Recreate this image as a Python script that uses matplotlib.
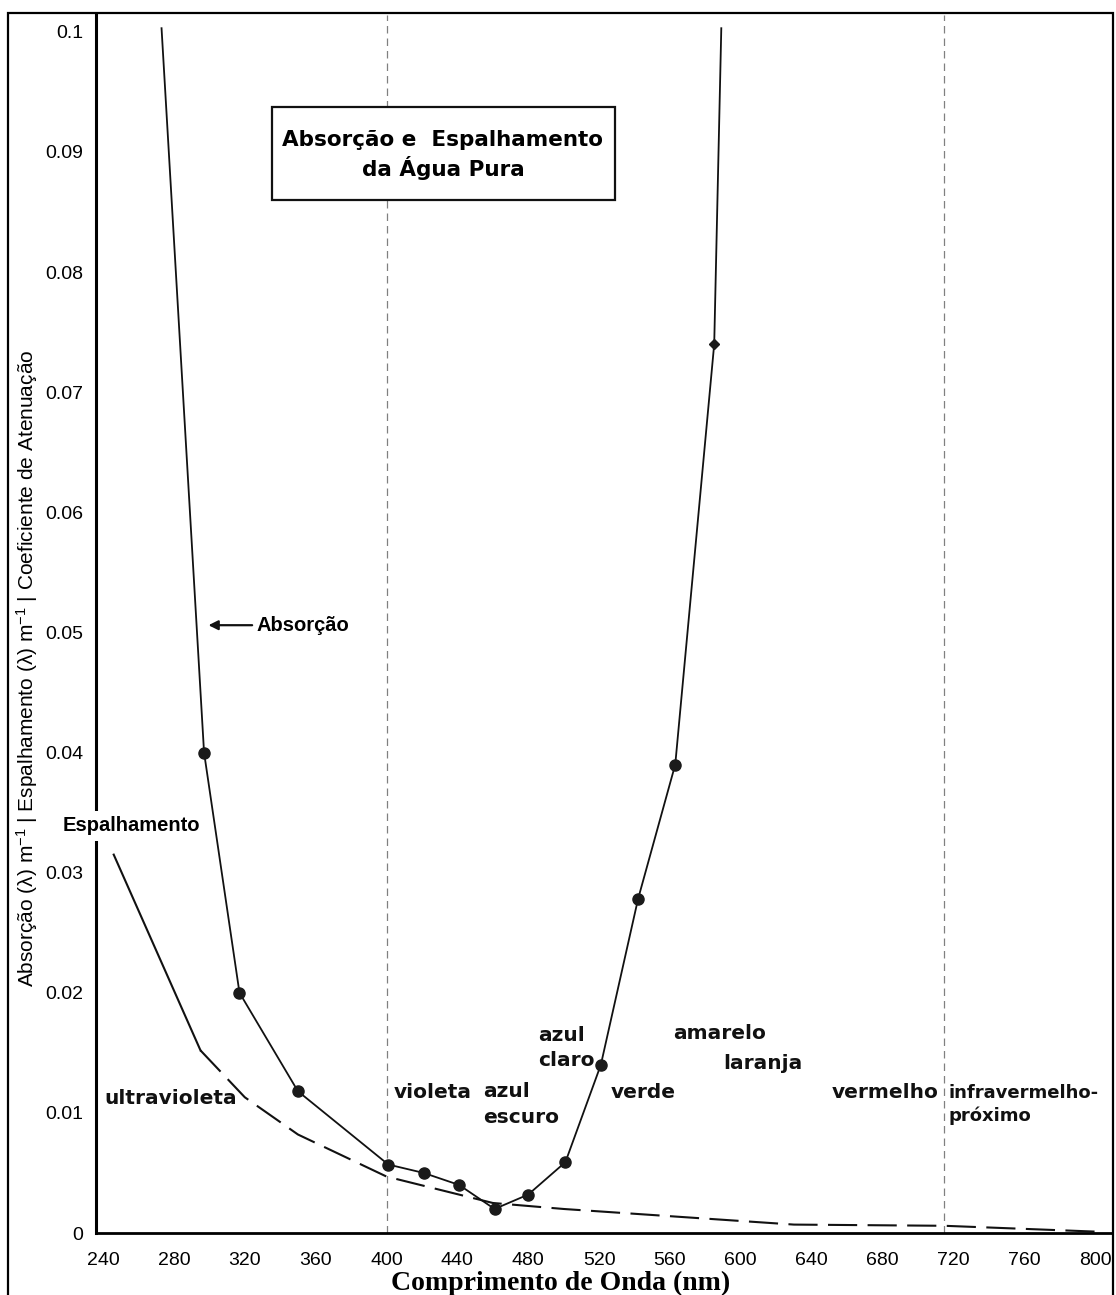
import matplotlib.pyplot as plt
from matplotlib.patches import Rectangle

# absorção da água pura (linha cheia com pontos)
abs_wl = [273, 297, 317, 350, 401, 421, 441, 461, 480, 501, 521, 542, 563, 585, 589]
abs_val = [0.1003, 0.0400, 0.0200, 0.0118, 0.0057, 0.0050, 0.0040, 0.0020,
           0.0032, 0.0059, 0.0140, 0.0278, 0.0390, 0.0740, 0.1003]

# espalhamento (cheio nos dois primeiros pontos, depois tracejado)
sca_wl = [246, 295, 320, 350, 400, 460, 500, 540, 580, 630, 715, 803]
sca_val = [0.0315, 0.0152, 0.0113, 0.0082, 0.0047, 0.0025, 0.0020, 0.0016,
           0.0012, 0.0007, 0.0006, 0.0001]

x_ticks = list(range(240, 801, 40))
y_ticks = [0, 0.01, 0.02, 0.03, 0.04, 0.05, 0.06, 0.07, 0.08, 0.09, 0.1]
y_tick_labels = ['0', '0.01', '0.02', '0.03', '0.04', '0.05', '0.06',
                 '0.07', '0.08', '0.09', '0.1']
band_lines = [400, 715]

W, H = 1116, 1295
plt.rcParams['font.family'] = ['Liberation Sans', 'DejaVu Sans']
plt.rcParams['mathtext.default'] = 'regular'


def fx(px):
    return px / W


def fy(py):
    return 1 - py / H


fig = plt.figure(figsize=(W / 100, H / 100), dpi=100)
ax = fig.add_axes([fx(96), fy(1233), fx(1111) - fx(96), fy(15) - fy(1233)])

# linhas verticais das faixas do espectro
for wl in band_lines:
    ax.axvline(wl, color='#808080', lw=0.9, dashes=(6, 4), zorder=1)

# espalhamento
ax.plot(sca_wl[:2], sca_val[:2], color='#111111', lw=1.5, zorder=2)
ax.plot(sca_wl[1:], sca_val[1:], color='#111111', lw=1.5, dashes=(14, 5), zorder=2)

# absorção
ax.plot(abs_wl, abs_val, color='#111111', lw=1.3, zorder=3)
ax.plot(abs_wl[1:13], abs_val[1:13], 'o', color='#1a1a1a', ms=8, zorder=4)
ax.plot(abs_wl[13:14], abs_val[13:14], 'D', color='#1a1a1a', ms=5, zorder=4)

ax.set_xlim(236, 809)
ax.set_ylim(0, 0.1014)
ax.set_xticks(x_ticks)
ax.set_xticklabels([str(t) for t in x_ticks], fontsize=14)
ax.set_yticks(y_ticks)
ax.set_yticklabels(y_tick_labels, fontsize=14)
ax.tick_params(axis='both', length=0)
ax.tick_params(axis='x', pad=14)
ax.tick_params(axis='y', pad=9)
for side in ['top', 'right']:
    ax.spines[side].set_visible(False)
ax.spines['left'].set_linewidth(2.2)
ax.spines['bottom'].set_linewidth(2.0)

# rótulos das faixas
band_font = dict(family='DejaVu Sans', fontweight='bold', fontsize=14.5, color='#111111')
ax.text(240.8, 0.0112, 'ultravioleta', va='center', **band_font)
ax.text(403.9, 0.0117, 'violeta', va='center', **band_font)
ax.text(454.7, 0.0107, 'azul\nescuro', va='center', linespacing=1.45, **band_font)
ax.text(485.5, 0.0154, 'azul\nclaro', va='center', linespacing=1.45, **band_font)
ax.text(526.8, 0.0117, 'verde', va='center', **band_font)
ax.text(562, 0.01665, 'amarelo', va='center', **band_font)
ax.text(590, 0.01415, 'laranja', va='center', **band_font)
ax.text(711.7, 0.01166, 'vermelho', va='center', ha='right', **band_font)
ax.text(717.3, 0.0107, 'infravermelho-\npróximo', va='center', linespacing=1.25,
        family='DejaVu Sans', fontweight='bold', fontsize=13, color='#111111')

ax.text(217.3, 0.0339, 'Espalhamento', va='center', fontsize=14.5, fontweight='bold',
        clip_on=False, zorder=6, bbox=dict(fc='white', ec='none', pad=4))
ax.annotate('Absorção', xy=(299.5, 0.0506), xytext=(326.5, 0.0506), va='center',
            fontsize=14.5, fontweight='bold',
            arrowprops=dict(arrowstyle='-|>', color='#111111', lw=1.6,
                            mutation_scale=14, shrinkA=1, shrinkB=0))

# caixa do título
ax.add_patch(Rectangle((fx(272), fy(200)), fx(615) - fx(272), fy(107) - fy(200),
                       transform=fig.transFigure, fc='white', ec='#111111', lw=1.6,
                       zorder=6, clip_on=False))
ax.text(fx(443), fy(140), 'Absorção e  Espalhamento', transform=fig.transFigure,
        ha='center', va='center', family='DejaVu Sans', fontweight='bold',
        fontsize=15.5, zorder=7)
ax.text(fx(443), fy(168), 'da Água Pura', transform=fig.transFigure,
        ha='center', va='center', family='DejaVu Sans', fontweight='bold',
        fontsize=15.5, zorder=7)

fig.text(fx(27), fy(668),
         'Absorção (λ) m$^{-1}$ | Espalhamento (λ) m$^{-1}$ | Coeficiente de Atenuação',
         rotation=90, ha='center', va='center', fontsize=15)
fig.text(fx(561), fy(1283), 'Comprimento de Onda (nm)', ha='center', va='center',
         family='Liberation Serif', fontweight='bold', fontsize=20)

# moldura externa
fig.patches.append(Rectangle((fx(8), -0.01), fx(1113) - fx(8), fy(13) + 0.01,
                             transform=fig.transFigure, fill=False, ec='black',
                             lw=1.6, figure=fig))

fig.savefig('out.png', dpi=100)
